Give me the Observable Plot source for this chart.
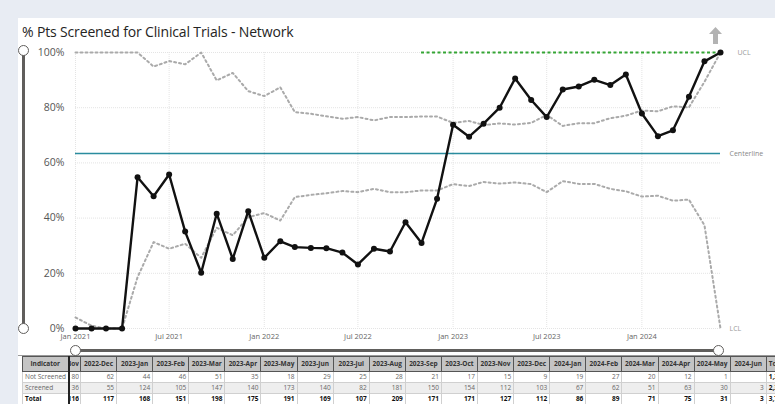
<!DOCTYPE html>
<html>
<head>
<meta charset="utf-8">
<script src="https://cdn.jsdelivr.net/npm/d3@7"></script>
<script src="https://cdn.jsdelivr.net/npm/@observablehq/plot@0.6"></script>
<style>
  html, body { margin: 0; padding: 0; }
  body { width: 775px; height: 404px; overflow: hidden; background: #e8ecf3; position: relative; font-family: "Open Sans", "Noto Sans", sans-serif; }
  #panel { position: absolute; left: 18px; top: 18px; width: 757px; height: 386px; background: #fff; }
  #title { position: absolute; left: 22px; top: 22px; font-size: 14px; color: #252423; white-space: nowrap; letter-spacing: -0.15px; }
  #chart { position: absolute; left: 0; top: 44px; }
  .vline { position: absolute; background: #605e5c; }
  .knob { position: absolute; width: 9px; height: 9px; border-radius: 50%; background: #fff; border: 1.5px solid #605e5c; box-sizing: content-box; }
  #tbl { position: absolute; left: 22px; top: 356px; border-collapse: collapse; table-layout: fixed; font-size: 6.5px; }
  #tbl td, #tbl th { border: 1px solid #d0d0d0; padding: 0 2px; white-space: nowrap; overflow: hidden; height: 10px; line-height: 10px; color: #666; text-align: right; }
  #tbl th { background: #c4c4c4; color: #333; font-weight: bold; text-align: center; height: 14px; border: 1px solid #555; }
  #tbl tr.scr td { background: #eeeeee; }
  #tbl tr.tot td { color: #111; font-weight: bold; }
  #tbl td.ind { text-align: left; }
  #tbl .frozen { border-right: 2px solid #222; }
  #tbl .narrow { padding: 0 1px 0 0; }
  .clipR { display: flex; justify-content: flex-end; overflow: hidden; width: 100%; }
</style>
</head>
<body>
<div id="panel"></div>
<div id="title">% Pts Screened for Clinical Trials - Network</div>
<div id="chart"></div>
<svg style="position:absolute;left:709px;top:27px" width="13" height="17"><polygon points="6.5,0 13,7 9,7 9,17 4,17 4,7 0,7" fill="#b3b3b3"/></svg>
<!-- vertical slider -->
<div class="vline" style="left:22px;top:52px;width:3px;height:276px;"></div>
<div class="knob" style="left:18px;top:45px;"></div>
<div class="knob" style="left:18px;top:323px;"></div>
<!-- horizontal slider -->
<div class="vline" style="left:78px;top:349px;width:640px;height:3px;"></div>
<div style="position:absolute;left:18px;top:355px;width:757px;height:1px;background:#999"></div>
<div class="knob" style="left:70px;top:345px;"></div>
<div class="knob" style="left:713px;top:345px;"></div>
<table id="tbl"></table>
<script>
// ---- chart data (monthly, Jan 2021 – Jun 2024) ----
const months = [
  "2021-01","2021-02","2021-03","2021-04","2021-05","2021-06","2021-07","2021-08","2021-09","2021-10","2021-11","2021-12",
  "2022-01","2022-02","2022-03","2022-04","2022-05","2022-06","2022-07","2022-08","2022-09","2022-10","2022-11","2022-12",
  "2023-01","2023-02","2023-03","2023-04","2023-05","2023-06","2023-07","2023-08","2023-09","2023-10","2023-11","2023-12",
  "2024-01","2024-02","2024-03","2024-04","2024-05","2024-06"
];
const pctScreened = [
  0, 0, 0, 0, 54.8, 47.9, 55.8, 35.1, 20.2, 41.6, 25.2, 42.5,
  25.6, 31.6, 29.5, 29.2, 29.1, 27.5, 23.2, 28.9, 27.9, 38.5, 31.0, 47.0,
  73.8, 69.5, 74.2, 80.0, 90.6, 82.8, 76.6, 86.6, 87.7, 90.1, 88.2, 92.0,
  77.9, 69.7, 71.8, 84.0, 96.8, 100
];
const ucl = [
  100, 100, 100, 100, 100, 94.9, 96.9, 95.7, 100, 89.9, 92.6, 86.0,
  84.2, 87.4, 78.4, 77.8, 76.9, 76.0, 76.6, 75.4, 76.6, 76.6, 76.8, 76.8,
  74.5, 75.2, 73.7, 74.3, 73.9, 74.5, 77.4, 73.4, 74.4, 74.4, 76.2, 77.1,
  79.0, 78.7, 80.5, 80.1, 89.4, 100
];
const lcl = [
  4.0, 1.0, 0, 0, 18.6, 31.3, 28.9, 30.7, 25.6, 36.5, 33.8, 40.3,
  41.8, 39.1, 47.6, 48.4, 49.0, 49.8, 49.4, 50.6, 49.4, 49.4, 50.0, 50.0,
  52.3, 51.6, 53.1, 52.5, 52.9, 52.3, 49.4, 53.4, 52.4, 52.4, 50.6, 49.7,
  47.8, 48.1, 46.3, 46.7, 37.4, 0
];
const centerline = 63.4;
const targetLine = 100;
const targetStart = "2022-11";
const xTickLabels = ["2021-01","2021-07","2022-01","2022-07","2023-01","2023-07","2024-01"];
const yTicks = [0, 20, 40, 60, 80, 100];

// ---- table data ----
const tableMonths = ["2022-Nov","2022-Dec","2023-Jan","2023-Feb","2023-Mar","2023-Apr","2023-May","2023-Jun","2023-Jul","2023-Aug","2023-Sep","2023-Oct","2023-Nov","2023-Dec","2024-Jan","2024-Feb","2024-Mar","2024-Apr","2024-May","2024-Jun"];
const notScreened = [80, 62, 44, 46, 51, 35, 18, 29, 25, 28, 21, 17, 15, 9, 19, 27, 20, 12, 1, null];
const screened = [36, 55, 124, 105, 147, 140, 173, 140, 82, 181, 150, 154, 112, 103, 67, 62, 51, 63, 30, 3];
const rowTotals = ["1,376", "2,332", "3,708"];

const toDate = s => new Date(s + "-01T00:00:00Z");
const data = months.map((m, i) => ({date: toDate(m), pct: pctScreened[i], ucl: ucl[i], lcl: lcl[i]}));
const xStart = toDate(months[0]), xEnd = toDate(months[months.length - 1]);
const last = data[data.length - 1];

const chart = Plot.plot({
  width: 775,
  height: 300,
  marginLeft: 75,
  marginRight: 55,
  marginTop: 8,
  marginBottom: 16,
  style: {fontFamily: "'Open Sans', sans-serif", background: "transparent", color: "#555", overflow: "visible"},
  x: {type: "utc", domain: [xStart, xEnd], label: null},
  y: {domain: [0, 100], label: null},
  marks: [
    Plot.gridY(yTicks, {stroke: "#e4e4e4", strokeOpacity: 1, strokeDasharray: "1,1"}),
    Plot.gridX(xTickLabels.map(toDate), {stroke: "#e4e4e4", strokeOpacity: 1, strokeDasharray: "1,1"}),
    Plot.axisY(yTicks, {tickSize: 0, tickPadding: 11, tickFormat: d => d + "%", fontSize: 10.5, fill: "#555", label: null}),
    Plot.axisX(xTickLabels.map(toDate), {tickSize: 0, tickPadding: 5, tickFormat: d3.utcFormat("%b %Y"), fontSize: 7.5, fill: "#666", label: null}),
    Plot.ruleY([centerline], {x1: xStart, x2: xEnd, stroke: "#2a8c9e", strokeWidth: 1.5}),
    Plot.line(data, {x: "date", y: "ucl", stroke: "#aaaaaa", strokeWidth: 2, strokeDasharray: "2,3"}),
    Plot.line(data, {x: "date", y: "lcl", stroke: "#aaaaaa", strokeWidth: 2, strokeDasharray: "2,3"}),
    Plot.ruleY([targetLine], {x1: toDate(targetStart), x2: xEnd, stroke: "#34a534", strokeWidth: 2, strokeDasharray: "3,2.5"}),
    Plot.line(data, {x: "date", y: "pct", stroke: "#111", strokeWidth: 2.4}),
    Plot.dot(data, {x: "date", y: "pct", r: 3, fill: "#111"}),
    Plot.text([{y: last.ucl, t: "UCL"}], {x: () => xEnd, y: "y", text: "t", dx: 17, textAnchor: "start", fontSize: 7, fill: "#999"}),
    Plot.text([{y: centerline, t: "Centerline"}], {x: () => xEnd, y: "y", text: "t", dx: 9, textAnchor: "start", fontSize: 7, fill: "#888"}),
    Plot.text([{y: last.lcl, t: "LCL"}], {x: () => xEnd, y: "y", text: "t", dx: 9, textAnchor: "start", fontSize: 7, fill: "#999"})
  ]
});
document.getElementById("chart").appendChild(chart);

// ---- table ----
const tbl = document.getElementById("tbl");
const colW = [46, 12].concat(tableMonths.slice(1).map(() => 36.1)).concat([40]);
const cg = document.createElement("colgroup");
colW.forEach(w => { const c = document.createElement("col"); c.style.width = w + "px"; cg.appendChild(c); });
tbl.appendChild(cg);
tbl.style.width = colW.reduce((a, b) => a + b, 0) + "px";
const fmt = v => v == null ? "" : d3.format(",")(v);
let html = "<tr><th class='frozen'>Indicator</th>";
tableMonths.forEach((m, i) => { html += i === 0 ? `<th class="narrow"><div class="clipR"><span>${m}</span></div></th>` : `<th>${m}</th>`; });
html += "<th style='text-align:left'>Total</th></tr>";
const rows = [
  {name: "Not Screened", vals: notScreened, cls: ""},
  {name: "Screened", vals: screened, cls: "scr"},
  {name: "Total", vals: screened.map((s, i) => s + (notScreened[i] || 0)), cls: "tot"}
];
rows.forEach((r, ri) => {
  html += `<tr class="${r.cls}"><td class="ind frozen">${r.name}</td>`;
  r.vals.forEach((v, i) => { html += i === 0 ? `<td class="narrow"><div class="clipR"><span>${fmt(v)}</span></div></td>` : `<td>${fmt(v)}</td>`; });
  html += `<td style="text-align:left;font-weight:bold;color:#111">${rowTotals[ri]}</td></tr>`;
});
tbl.innerHTML += html;
</script>
</body>
</html>
